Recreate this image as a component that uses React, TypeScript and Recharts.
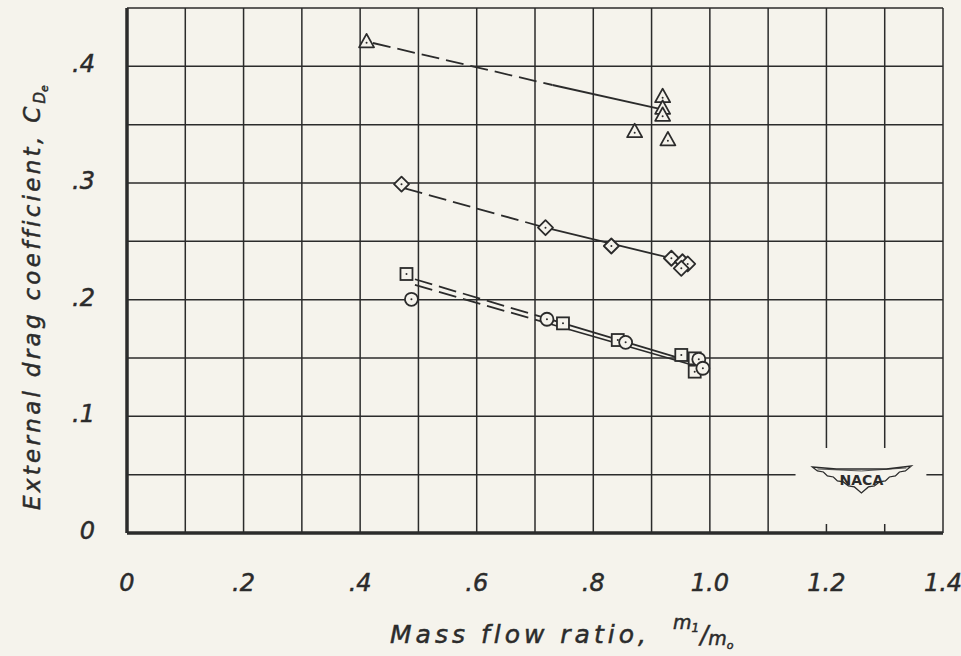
import React from 'react';
import { ScatterChart, Scatter, XAxis, YAxis, CartesianGrid, ReferenceArea, ReferenceDot } from 'recharts';

const BG = '#f5f3ec';
const INK = '#2b2b2b';
const FONT = '"DejaVu Sans", sans-serif';

// axis ticks (grid every cell, labels on every other)
const xTicks = [0, 0.1, 0.2, 0.3, 0.4, 0.5, 0.6, 0.7, 0.8, 0.9, 1.0, 1.1, 1.2, 1.3, 1.4];
const yTicks = [0, 0.05, 0.1, 0.15, 0.2, 0.25, 0.3, 0.35, 0.4, 0.45];

// test points
const triangleX = [0.411, 0.919, 0.919, 0.919, 0.871, 0.928];
const triangleY = [0.421, 0.374, 0.364, 0.358, 0.344, 0.337];

const diamondX = [0.471, 0.718, 0.831, 0.934, 0.953, 0.962, 0.951];
const diamondY = [0.299, 0.2617, 0.246, 0.2355, 0.2325, 0.2306, 0.2269];

const squareX = [0.4795, 0.748, 0.842, 0.951, 0.974, 0.974];
const squareY = [0.222, 0.1797, 0.1654, 0.1526, 0.1497, 0.1383];

const circleX = [0.488, 0.7205, 0.8555, 0.981, 0.988];
const circleY = [0.2003, 0.1832, 0.1634, 0.1489, 0.1412];

// faired curves: dashed part (extrapolated) + solid part
const triDashX = [0.422, 0.73];
const triDashY = [0.42, 0.384];
const triSolidX = [0.73, 0.916];
const triSolidY = [0.384, 0.3634];

const diaDashX = [0.4766, 0.718];
const diaDashY = [0.2954, 0.2617];
const diaSolidX = [0.718, 0.934];
const diaSolidY = [0.2617, 0.2355];

const sqDashX = [0.494, 0.72];
const sqDashY = [0.2175, 0.1839];
const sqSolidX = [0.72, 0.968];
const sqSolidY = [0.1839, 0.1468];

const cirDashX = [0.494, 0.72];
const cirDashY = [0.2126, 0.18];
const cirSolidX = [0.72, 0.97];
const cirSolidY = [0.18, 0.144];

const zip = (xs: number[], ys: number[]) => xs.map((x, i) => ({ x, y: ys[i] }));

const dot = (cx: number, cy: number) => <circle cx={cx} cy={cy} r={1} fill={INK} />;

const Triangle = ({ cx, cy }: any) => (
    <g>
        <polygon
            points={`${cx},${cy - 8} ${cx + 7.5},${cy + 5.5} ${cx - 7.5},${cy + 5.5}`}
            fill={BG}
            stroke={INK}
            strokeWidth={1.8}
            strokeLinejoin="round"
        />
        {dot(cx, cy + 1)}
    </g>
);

const Diamond = ({ cx, cy }: any) => (
    <g>
        <polygon
            points={`${cx},${cy - 7.5} ${cx + 7.5},${cy} ${cx},${cy + 7.5} ${cx - 7.5},${cy}`}
            fill={BG}
            stroke={INK}
            strokeWidth={1.8}
            strokeLinejoin="round"
        />
        {dot(cx, cy)}
    </g>
);

const Square = ({ cx, cy }: any) => (
    <g>
        <rect x={cx - 6} y={cy - 6} width={12} height={12} fill={BG} stroke={INK} strokeWidth={1.8} />
        {dot(cx, cy)}
    </g>
);

const Circle = ({ cx, cy }: any) => (
    <g>
        <circle cx={cx} cy={cy} r={6.5} fill={BG} stroke={INK} strokeWidth={1.8} />
        {dot(cx, cy)}
    </g>
);

const NoShape = () => <g />;

const fmt = (v: number) => {
    if (v === 0) return '0';
    if (v < 1) return '.' + Math.round(v * 10);
    return v.toFixed(1);
};

const XTick = ({ x, y, payload }: any) => {
    const v = payload.value;
    if (Math.round(v * 10) % 2 !== 0) return null;
    return (
        <text x={x} y={y + 50} textAnchor="middle" fontFamily={FONT} fontStyle="italic" fontSize={24}
            fill={INK} stroke={INK} strokeWidth={0.5}>
            {fmt(v)}
        </text>
    );
};

const YTick = ({ x, y, payload }: any) => {
    const v = payload.value;
    if (Math.round(v * 100) % 10 !== 0 || v > 0.42) return null;
    return (
        <text x={x - 24} y={y + 6} textAnchor="end" fontFamily={FONT} fontStyle="italic" fontSize={24}
            fill={INK} stroke={INK} strokeWidth={0.5}>
            {fmt(v)}
        </text>
    );
};

const YTitle = () => (
    <text
        x={40}
        y={510}
        transform="rotate(-90, 40, 510)"
        textAnchor="start"
        fontFamily={FONT}
        fontStyle="italic"
        fontSize={23}
        letterSpacing={3.3}
        fill={INK}
        stroke={INK}
        strokeWidth={0.5}
    >
        External drag coefficient,  C
        <tspan fontSize={15} dy={5} letterSpacing={0}>D</tspan>
        <tspan fontSize={11} dy={3} letterSpacing={0}>e</tspan>
    </text>
);

const XTitle = () => (
    <text fontFamily={FONT} fontStyle="italic" fill={INK} stroke={INK} strokeWidth={0.5}>
        <tspan x={390} y={643} fontSize={25} letterSpacing={4}>Mass flow ratio,</tspan>
        <tspan x={673} y={629} fontSize={19}>m</tspan>
        <tspan dy={3} fontSize={12}>1</tspan>
        <tspan dx={1} dy={11} fontSize={24}>/</tspan>
        <tspan dx={0} dy={2} fontSize={19}>m</tspan>
        <tspan dy={4} fontSize={11}>o</tspan>
    </text>
);

const NacaLogo = ({ cx, cy }: any) => {
    const pts = [
        [-49, -12], [-25, -10], [0, -10], [25, -10], [50, -13],
        [44, -8], [38, -7], [34, -3], [28, -2], [24, 2], [18, 3], [13, 7], [7, 8], [0, 14],
        [-7, 8], [-13, 7], [-18, 3], [-24, 2], [-28, -2], [-34, -3], [-38, -7], [-44, -8],
    ];
    return (
        <g>
            <polygon
                points={pts.map(([px, py]) => `${cx + px},${cy + py}`).join(' ')}
                fill={BG}
                stroke={INK}
                strokeWidth={1.3}
            />
            <polyline
                points={`${cx - 44},${cy - 10} ${cx},${cy - 8} ${cx + 45},${cy - 11}`}
                fill="none"
                stroke={INK}
                strokeWidth={0.8}
            />
            <text x={cx} y={cy + 6} textAnchor="middle" fontFamily={FONT} fontSize={14} fontWeight="bold" fill={INK}>
                NACA
            </text>
        </g>
    );
};

export default function App() {
    return (
        <div style={{ width: 961, height: 656, background: BG, position: 'relative' }}>
            <style>{'body{margin:0}'}</style>
            <ScatterChart width={961} height={656} margin={{ top: 8, right: 18, bottom: 0, left: 0 }}>
                <CartesianGrid stroke={INK} strokeWidth={1.5} />
                <XAxis
                    type="number"
                    dataKey="x"
                    domain={[0, 1.4]}
                    ticks={xTicks}
                    tick={<XTick />}
                    tickLine={false}
                    axisLine={{ stroke: INK, strokeWidth: 3.5 }}
                    height={123}
                    interval={0}
                    allowDataOverflow
                />
                <YAxis
                    type="number"
                    dataKey="y"
                    domain={[0, 0.45]}
                    ticks={yTicks}
                    tick={<YTick />}
                    tickLine={false}
                    axisLine={{ stroke: INK, strokeWidth: 3.5 }}
                    width={127}
                    interval={0}
                    allowDataOverflow
                />
                <ReferenceArea x1={1.147} x2={1.3715} y1={0.0077} y2={0.0729} fill={BG} fillOpacity={1} stroke="none" />
                <ReferenceDot x={1.26} y={0.0463} r={1} shape={<NacaLogo />} />

                <Scatter data={zip(triDashX, triDashY)} line={{ stroke: INK, strokeWidth: 1.8, strokeDasharray: '18 7' }} shape={<NoShape />} isAnimationActive={false} />
                <Scatter data={zip(triSolidX, triSolidY)} line={{ stroke: INK, strokeWidth: 1.8 }} shape={<NoShape />} isAnimationActive={false} />
                <Scatter data={zip(diaDashX, diaDashY)} line={{ stroke: INK, strokeWidth: 1.8, strokeDasharray: '18 7' }} shape={<NoShape />} isAnimationActive={false} />
                <Scatter data={zip(diaSolidX, diaSolidY)} line={{ stroke: INK, strokeWidth: 1.8 }} shape={<NoShape />} isAnimationActive={false} />
                <Scatter data={zip(sqDashX, sqDashY)} line={{ stroke: INK, strokeWidth: 1.8, strokeDasharray: '18 7' }} shape={<NoShape />} isAnimationActive={false} />
                <Scatter data={zip(sqSolidX, sqSolidY)} line={{ stroke: INK, strokeWidth: 1.8 }} shape={<NoShape />} isAnimationActive={false} />
                <Scatter data={zip(cirDashX, cirDashY)} line={{ stroke: INK, strokeWidth: 1.8, strokeDasharray: '18 7' }} shape={<NoShape />} isAnimationActive={false} />
                <Scatter data={zip(cirSolidX, cirSolidY)} line={{ stroke: INK, strokeWidth: 1.8 }} shape={<NoShape />} isAnimationActive={false} />

                <Scatter data={zip(triangleX, triangleY)} shape={<Triangle />} isAnimationActive={false} />
                <Scatter data={zip(diamondX, diamondY)} shape={<Diamond />} isAnimationActive={false} />
                <Scatter data={zip(squareX, squareY)} shape={<Square />} isAnimationActive={false} />
                <Scatter data={zip(circleX, circleY)} shape={<Circle />} isAnimationActive={false} />
            </ScatterChart>
            <svg width={961} height={656} style={{ position: 'absolute', left: 0, top: 0, pointerEvents: 'none' }}>
                <YTitle />
                <XTitle />
            </svg>
        </div>
    );
}
